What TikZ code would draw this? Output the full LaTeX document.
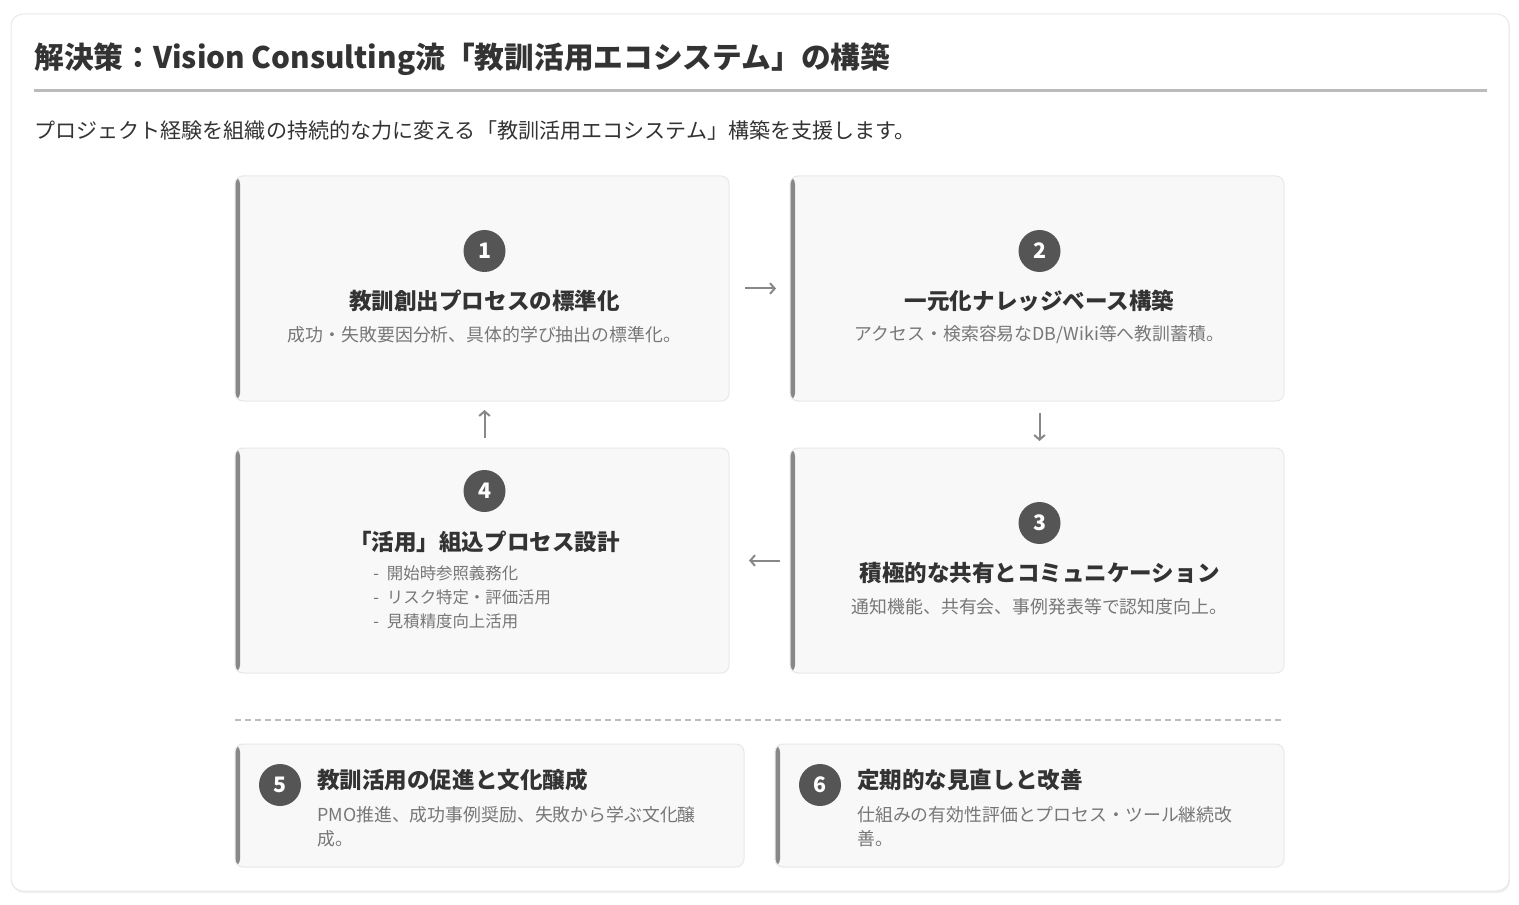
\documentclass[tikz,border=0pt]{standalone}
\usepackage{fontspec}
\setmainfont{Noto Sans CJK JP}
\usepackage{xcolor}
\usetikzlibrary{positioning,calc,arrows.meta}
\definecolor{ink}{HTML}{333333}
\definecolor{soft}{HTML}{777777}
\definecolor{bar}{HTML}{888888}
\definecolor{cardbg}{HTML}{F8F8F8}
\definecolor{edge}{HTML}{E8E8E8}
\definecolor{disc}{HTML}{555555}
\definecolor{rule}{HTML}{BBBBBB}
\tikzset{
  card/.style={draw=edge,line width=0.75pt,fill=cardbg,rounded corners=6pt,outer sep=0pt,inner sep=0pt,
    path picture={\fill[bar] (path picture bounding box.south west) rectangle ([xshift=3.75pt]path picture bounding box.north west);}},
  bigcard/.style={card,minimum width=370.5pt,minimum height=168.75pt},
  smallcard/.style={card,minimum width=381.75pt,minimum height=92.25pt},
  num/.style={circle,fill=disc,text=white,minimum size=31.5pt,inner sep=0pt,font=\fontsize{16pt}{16pt}\selectfont\bfseries},
  ttl/.style={text=ink,inner sep=0pt,font=\fontsize{16.9pt}{20pt}\selectfont\bfseries},
  desc/.style={text=soft,inner sep=0pt,font=\fontsize{13.4pt}{18pt}\selectfont},
  item/.style={desc,anchor=west,font=\fontsize{12.3pt}{15pt}\selectfont},
  flow/.style={draw=bar,line width=1.5pt,-{Straight Barb[length=3.5pt,width=8pt]}}
}
\begin{document}
\begin{tikzpicture}[x=0.75pt,y=-0.75pt]
         \useasboundingbox (0,0) rectangle (1519,905);
         \fill[black!6,rounded corners=9pt] (12,16) rectangle (1510,893);
         \node[draw=edge,fill=white,rounded corners=9pt,line width=0.75pt,minimum width=1123.5pt,minimum height=657.75pt,name=frame] at (760,452.5) {};
         \node[text=ink,anchor=west,inner sep=0pt,font=\fontsize{22.3pt}{26pt}\selectfont\bfseries,name=head] at (34,59) {解決策：Vision Consulting流「教訓活用エコシステム」の構築};
         \coordinate (rl) at (34,91);
         \coordinate (rr) at (1487,91);
         \draw[rule,line width=2.25pt] (rl) -- (rr);
         \node[text=ink,anchor=west,inner sep=0pt,font=\fontsize{15.8pt}{18pt}\selectfont,name=lead] at (34,131) {プロジェクト経験を組織の持続的な力に変える「教訓活用エコシステム」構築を支援します。};

         \node[bigcard,name=c1] at (482,288.5) {};
         \node[bigcard,name=c2,right=45.75pt of c1] {};
         \node[bigcard,name=c4,below=35.25pt of c1] {};
         \node[bigcard,name=c3,below=35.25pt of c2] {};

         \node[num,name=n1] at ($(c1.center)+(2.5,-37.5)$) {1};
         \node[ttl,name=t1] at ($(c1.center)+(2.5,12)$) {教訓創出プロセスの標準化};
         \node[desc,name=d1] at ($(c1.center)+(2.5,46.5)$) {成功・失敗要因分析、具体的学び抽出の標準化。};

         \node[num,name=n2] at ($(c2.center)+(2.5,-37.5)$) {2};
         \node[ttl,name=t2] at ($(c2.center)+(2.5,12)$) {一元化ナレッジベース構築};
         \node[desc,name=d2] at ($(c2.center)+(2.5,46.5)$) {アクセス・検索容易なDB/Wiki等へ教訓蓄積。};

         \node[num,name=n3] at ($(c3.center)+(2.5,-37.5)$) {3};
         \node[ttl,name=t3] at ($(c3.center)+(2.5,12)$) {積極的な共有とコミュニケーション};
         \node[desc,name=d3] at ($(c3.center)+(2.5,46.5)$) {通知機能、共有会、事例発表等で認知度向上。};

         \node[num,name=n4] at ($(c4.center)+(2.5,-69.5)$) {4};
         \node[ttl,name=t4] at ($(c4.center)+(2.5,-19)$) {「活用」組込プロセス設計};
         \node[item,name=l1] at ($(c4.west)+(138,13)$) {-\hspace{6pt}開始時参照義務化};
         \node[item,name=l2] at ($(c4.west)+(138,37)$) {-\hspace{6pt}リスク特定・評価活用};
         \node[item,name=l3] at ($(c4.west)+(138,61)$) {-\hspace{6pt}見積精度向上活用};

         \path
            (c1) edge[flow,shorten <=12pt,shorten >=10.5pt] (c2)
            (c2.south -| n2) edge[flow,shorten <=9pt,shorten >=5.25pt] (c3.north -| n3)
            (c3) edge[flow,shorten <=7.5pt,shorten >=15pt] (c4)
            (c4.north -| n4) edge[flow,shorten <=7.5pt,shorten >=6.75pt] (c1.south -| n1);

         \coordinate (dl) at (235,720);
         \coordinate (dr) at (1285,720);
         \draw[rule,line width=1.5pt,dash pattern=on 4.5pt off 3pt] (dl) -- (dr);

         \node[smallcard,name=c5] at (489.5,805.5) {};
         \node[smallcard,name=c6,right=23.25pt of c5] {};

         \node[num,name=n5] at ($(c5.west)+(45,-20.5)$) {5};
         \node[ttl,anchor=west,name=t5] at ($(c5.west)+(82,-26)$) {教訓活用の促進と文化醸成};
         \node[desc,anchor=north west,align=left,name=d5] at ($(c5.west)+(82,1)$) {PMO推進、成功事例奨励、失敗から学ぶ文化醸\\成。};

         \node[num,name=n6] at ($(c6.west)+(45,-20.5)$) {6};
         \node[ttl,anchor=west,name=t6] at ($(c6.west)+(82,-26)$) {定期的な見直しと改善};
         \node[desc,anchor=north west,align=left,name=d6] at ($(c6.west)+(82,1)$) {仕組みの有効性評価とプロセス・ツール継続改\\善。};
      \end{tikzpicture}
\end{document}
